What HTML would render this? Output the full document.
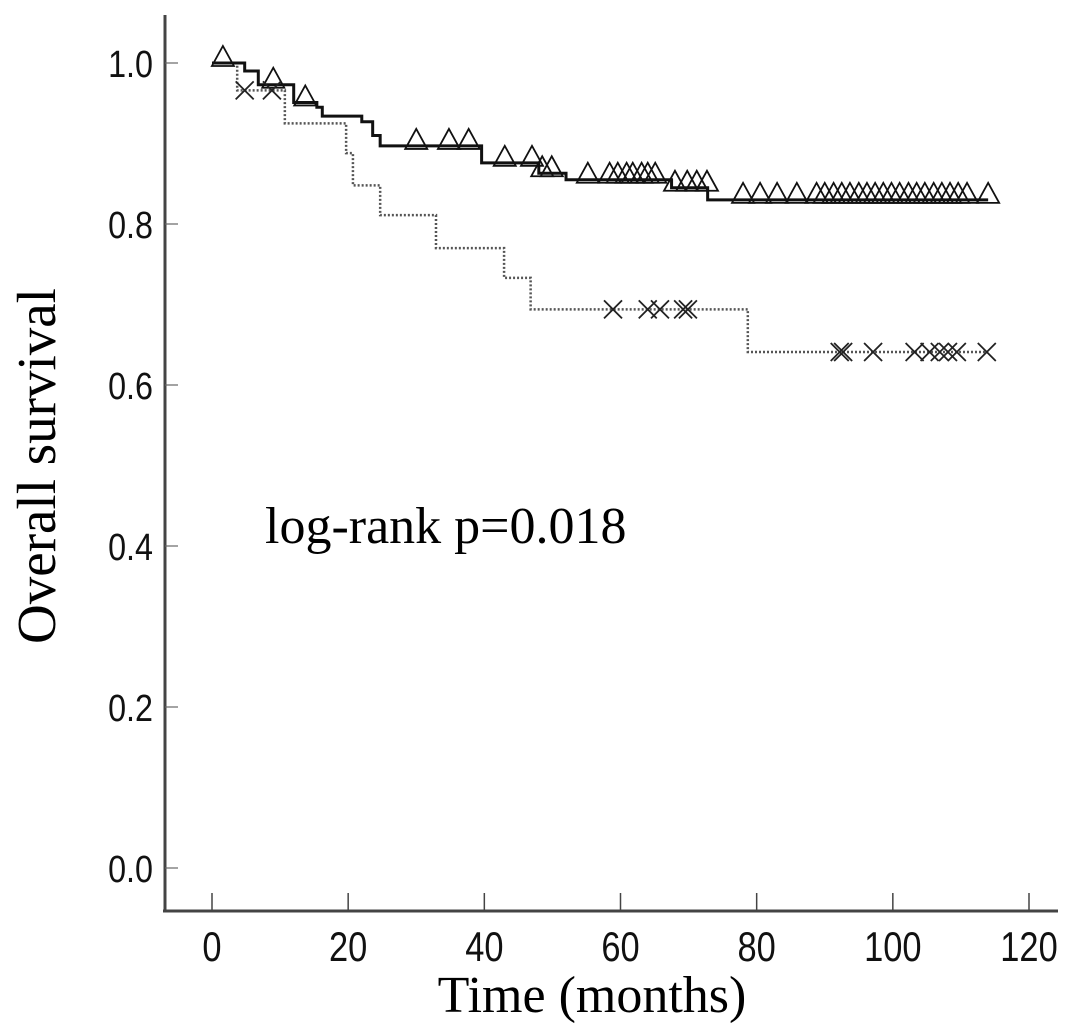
<!DOCTYPE html>
<html><head><meta charset="utf-8"><style>
html,body{margin:0;padding:0;background:#fff}
svg{display:block}
</style></head><body>
<svg id="chart" width="1087" height="1035" viewBox="0 0 1087 1035" xmlns="http://www.w3.org/2000/svg">
<g id="axes"></g>
<g id="series"></g>
<text x="265" y="543" font-family="Liberation Serif, serif" font-size="52" fill="#000">log-rank p=0.018</text>
<text x="592" y="1012" text-anchor="middle" font-family="Liberation Serif, serif" font-size="52" fill="#000">Time (months)</text>
<text transform="translate(55,466) rotate(-90)" text-anchor="middle" font-family="Liberation Serif, serif" font-size="55" fill="#000">Overall survival</text>
</svg>
<script>
const xTicks = [0, 20, 40, 60, 80, 100, 120];
const yTicks = [0.0, 0.2, 0.4, 0.6, 0.8, 1.0];
const yTickLabels = ["0.0", "0.2", "0.4", "0.6", "0.8", "1.0"];
// Group A (solid, triangles)
const stepTimesA = [0, 4.8, 6.8, 12, 15.4, 16.2, 22, 23.6, 24.7, 39.6, 48, 52, 67.5, 72.8];
const stepSurvA  = [1.0, 0.99, 0.973, 0.951, 0.945, 0.934, 0.927, 0.91, 0.897, 0.876, 0.863, 0.855, 0.845, 0.83];
const endTimeA = 114;
const censorA = [1.6, 9.0, 13.7, 30.0, 34.8, 37.7, 43.0, 47.0, 48.5, 49.9, 55.2, 58.4, 59.6, 60.9, 61.8, 63.1, 64.0, 65.1, 68.0, 69.8, 71.2, 72.7, 78.0, 80.5, 83.0, 85.9, 88.8, 90.0, 91.3, 92.5, 93.7, 95.0, 96.2, 97.4, 98.6, 99.8, 101.0, 102.3, 103.5, 104.7, 106.0, 107.2, 108.4, 109.6, 110.9, 114.0];
// Group B (dotted, crosses)
const stepTimesB = [0, 3.7, 10.7, 19.7, 20.7, 24.7, 32.9, 42.9, 46.8, 78.7];
const stepSurvB  = [1.0, 0.966, 0.925, 0.888, 0.848, 0.811, 0.77, 0.733, 0.694, 0.641];
const endTimeB = 114;
const censorB = [4.8, 8.8, 58.9, 64.0, 65.8, 69.2, 69.9, 92.2, 92.7, 97.1, 103.2, 105.4, 106.9, 108.1, 109.4, 113.8];

const X = t => 212 + t * (1029 - 212) / 120;
const Y = s => 868 - s * (868 - 63);
const NS = "http://www.w3.org/2000/svg";
function mk(tag, attrs, parent){const e=document.createElementNS(NS,tag);for(const k in attrs)e.setAttribute(k,attrs[k]);parent.appendChild(e);return e;}
const axes=document.getElementById('axes'), series=document.getElementById('series');

let e=mk('line',{x1:165,y1:15,x2:165,y2:912,stroke:'#444','stroke-width':3},axes);


e=mk('line',{x1:163,y1:911,x2:1058,y2:911,stroke:'#444','stroke-width':3},axes);


xTicks.forEach(t=>{
  const l=mk('line',{x1:X(t),y1:893,x2:X(t),y2:911,stroke:'#444','stroke-width':1.5},axes);
  
  
  const tx=mk('text',{transform:`translate(${X(t)},961) scale(0.82,1)`,'text-anchor':'middle','font-family':'Liberation Sans, sans-serif','font-size':42,fill:'#111'},axes);
  tx.textContent=String(t);
  
  
});
yTicks.forEach((s,i)=>{
  const l=mk('line',{x1:165,y1:Y(s),x2:178,y2:Y(s),stroke:'#666','stroke-width':1.2},axes);
  
  
  const tx=mk('text',{transform:`translate(153,${Y(s)+14}) scale(0.85,1)`,'text-anchor':'end','font-family':'Liberation Sans, sans-serif','font-size':38,fill:'#111'},axes);
  tx.textContent=yTickLabels[i];
  
  
});
function stepPath(times,surv,end){
  let d='M'+X(times[0])+','+Y(surv[0]);
  for(let i=1;i<times.length;i++){d+=' H'+X(times[i])+' V'+Y(surv[i]);}
  return d+' H'+X(end);
}
function survAt(times,surv,t){let s=surv[0];for(let i=0;i<times.length;i++){if(times[i]<=t)s=surv[i];}return s;}
e=mk('path',{d:stepPath(stepTimesB,stepSurvB,endTimeB),fill:'none',stroke:'#555','stroke-width':2.5,'stroke-dasharray':'2 2'},series);


e=mk('path',{d:stepPath(stepTimesA,stepSurvA,endTimeA),fill:'none',stroke:'#111','stroke-width':3},series);


censorA.forEach(t=>{
  const x=X(t), y=Y(survAt(stepTimesA,stepSurvA,t));
  const p=mk('path',{d:`M${x-11},${y+3} L${x},${y-17} L${x+11},${y+3} Z`,fill:'none',stroke:'#111','stroke-width':1.8},series);
  
  
});
censorB.forEach(t=>{
  const x=X(t), y=Y(survAt(stepTimesB,stepSurvB,t));
  const p=mk('path',{d:`M${x-9},${y-9} L${x+9},${y+9} M${x+9},${y-9} L${x-9},${y+9}`,fill:'none',stroke:'#222','stroke-width':1.8},series);
  
  
});
</script>
</body></html>
